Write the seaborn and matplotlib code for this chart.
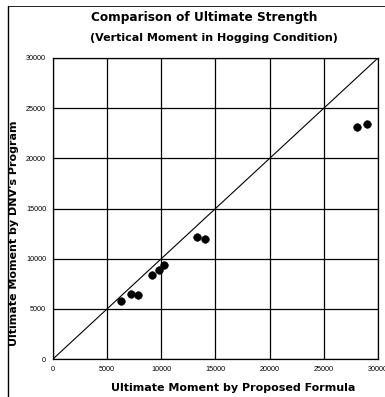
import numpy as np
import pandas as pd
import matplotlib
matplotlib.use("Agg")
import matplotlib.pyplot as plt
import seaborn as sns

# values
proposed = [6250, 7170, 7840, 9130, 9750, 10270, 13310, 13990, 28070, 28940]
dnv = [5800, 6470, 6340, 8370, 8900, 9360, 12120, 11980, 23080, 23380]
ticks = [0, 5000, 10000, 15000, 20000, 25000, 30000]

df = pd.DataFrame({"proposed": proposed, "dnv": dnv})

sns.set_style("white")
plt.rcParams['font.family'] = ['Liberation Sans', 'DejaVu Sans']
plt.rcParams['text.color'] = 'black'
plt.rcParams['axes.labelcolor'] = 'black'
plt.rcParams['xtick.color'] = 'black'
plt.rcParams['ytick.color'] = 'black'

fig = plt.figure(figsize=(3.85, 3.97), dpi=100)
ax = fig.add_axes([53 / 385, 1 - 359 / 397, 325 / 385, 301 / 397])

# 1:1 reference line
ax.plot([0, 30000], [0, 30000], color='black', linewidth=0.8)
sns.scatterplot(data=df, x='proposed', y='dnv', ax=ax, color='black',
                s=30, edgecolor='black', zorder=3)

ax.set_xlim(0, 30000)
ax.set_ylim(0, 30000)
ax.set_xticks(ticks)
ax.set_yticks(ticks)
ax.tick_params(labelsize=5.2, length=0, pad=5)
ax.grid(True, color='black', linewidth=0.9)
for s in ax.spines.values():
    s.set_color('black')
    s.set_linewidth(0.9)

bold = dict(family='DejaVu Sans', fontweight='bold')
ax.set_xlabel('Ultimate Moment by Proposed Formula', fontsize=8, **bold)
ax.set_ylabel("Ultimate Moment by DNV's Program", fontsize=8, **bold)
ax.xaxis.set_label_coords((233 - 53) / 325, -(383 - 359) / 301)
ax.yaxis.set_label_coords(-(53 - 19) / 325, (359 - 233) / 301)

fig.text(204 / 385, 1 - 18 / 397, 'Comparison of Ultimate Strength',
         ha='center', va='center', fontsize=8.7, **bold)
fig.text(214 / 385, 1 - 38 / 397, '(Vertical Moment in Hogging Condition)',
         ha='center', va='center', fontsize=8.0, **bold)

# scan frame
fig.add_artist(plt.Line2D([8 / 385, 8 / 385], [0, 1 - 6 / 397],
                          transform=fig.transFigure, color='black', linewidth=1))
fig.add_artist(plt.Line2D([8 / 385, 1], [1 - 6 / 397, 1 - 6 / 397],
                          transform=fig.transFigure, color='black', linewidth=0.6))

fig.savefig('out.png', dpi=100)
